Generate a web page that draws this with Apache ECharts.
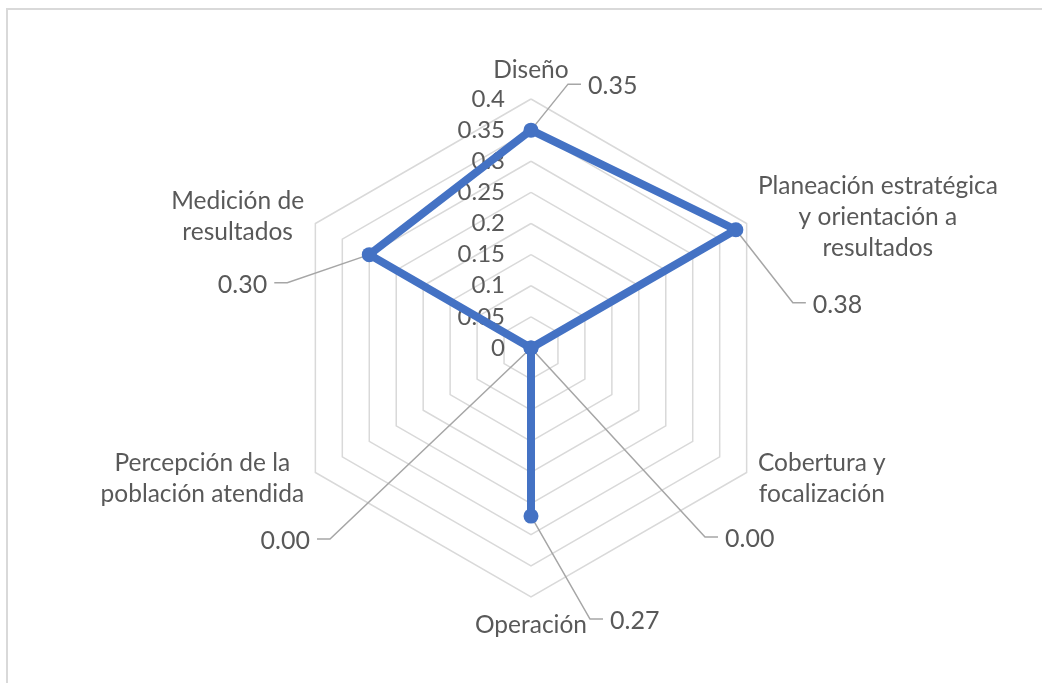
<!DOCTYPE html>
<html>
<head>
<meta charset="utf-8">
<script src="https://cdn.jsdelivr.net/npm/echarts@6/dist/echarts.min.js"></script>
<style>
  html, body { margin: 0; padding: 0; background: #fff; }
  #main { width: 1042px; height: 683px; }
</style>
</head>
<body>
<div id="main"></div>
<script>
// axis names as Excel lists them, clockwise from the top
const categories = [
  'Diseño',
  'Planeación estratégica\ny orientación a\nresultados',
  'Cobertura y\nfocalización',
  'Operación',
  'Percepción de la\npoblación atendida',
  'Medición de\nresultados'
];
const values = [0.35, 0.38, 0.00, 0.27, 0.00, 0.30];
const maxValue = 0.4;
const splitCount = 8; // 0.05 steps

// echarts radar runs counter-clockwise, so walk the list backwards after the top one
const order = [0, 5, 4, 3, 2, 1];

// value label callouts: elbow offset from the point, and which side the text goes
const callouts = [
  { dx: 37, dy: -46, side: 1 },
  { dx: 57, dy: 73, side: 1 },
  { dx: 174, dy: 189, side: 1 },
  { dx: 59, dy: 103, side: 1 },
  { dx: -201, dy: 191, side: -1 },
  { dx: -82, dy: 28, side: -1 }
];

const FONT = 'Lato, "Noto Sans", sans-serif';
const TEXT = '#595959';
const BLUE = '#4472c4';
const cx = 531, cy = 348, R = 249;
const FS = 24.5;

const chart = echarts.init(document.getElementById('main'));

chart.setOption({
  backgroundColor: '#fff',
  animation: false,
  radar: {
    center: [cx, cy],
    radius: R,
    startAngle: 90,
    shape: 'polygon',
    splitNumber: splitCount,
    nameGap: 13,
    axisName: {
      color: TEXT,
      fontFamily: FONT,
      fontSize: FS,
      lineHeight: 31,
      formatter: function (name) {
        return name.split('\n').map(s => '{c|' + s + '}').join('\n');
      },
      rich: {
        c: { align: 'center', color: TEXT, fontFamily: FONT, fontSize: FS, lineHeight: 31 }
      }
    },
    axisLine: { show: false },
    axisTick: { show: false },
    splitArea: { show: false },
    splitLine: { lineStyle: { color: '#d9d9d9', width: 1.5 } },
    axisLabel: {
      show: true,
      color: TEXT,
      fontFamily: FONT,
      fontSize: 24,
      margin: 26
    },
    indicator: order.map(function (i, k) {
      const ind = { name: categories[i], min: 0, max: maxValue };
      if (k > 0) ind.axisLabel = { show: false };
      return ind;
    })
  },
  series: [{
    type: 'radar',
    symbol: 'circle',
    symbolSize: 15,
    lineStyle: { color: BLUE, width: 8 },
    itemStyle: { color: BLUE },
    data: [{
      value: order.map(i => values[i])
    }]
  }]
});

// callouts: find each point through the radar coordinate system
let radarCS = null;
try { radarCS = chart.getModel().getComponent('radar').coordinateSystem; } catch (e) {}

function pointOf(i) {
  const k = order.indexOf(i);
  if (radarCS && radarCS.dataToPoint) return radarCS.dataToPoint(values[i], k);
  const a = Math.PI / 2 + k * 2 * Math.PI / order.length;
  const r = R * values[i] / maxValue;
  return [cx + r * Math.cos(a), cy - r * Math.sin(a)];
}

const graphics = [
  // the frame of the chart area, only left and top edges are visible
  { type: 'line', shape: { x1: 7, y1: 9, x2: 7, y2: 683 }, style: { stroke: '#d9d9d9', lineWidth: 2 } },
  { type: 'line', shape: { x1: 6, y1: 9, x2: 1042, y2: 9 }, style: { stroke: '#d9d9d9', lineWidth: 2 } }
];

values.forEach(function (v, i) {
  const p = pointOf(i);
  const c = callouts[i];
  const ex = p[0] + c.dx, ey = p[1] + c.dy;
  const tx = ex + c.side * 13;
  graphics.push({
    type: 'polyline',
    z: 1,
    shape: { points: [p, [ex, ey], [tx, ey]] },
    style: { stroke: '#a6a6a6', lineWidth: 1.5, fill: null }
  });
  graphics.push({
    type: 'text',
    z: 5,
    x: tx + c.side * 7,
    y: ey + 2,
    style: {
      text: v.toFixed(2),
      fill: TEXT,
      font: '25px ' + FONT,
      align: c.side > 0 ? 'left' : 'right',
      verticalAlign: 'middle'
    }
  });
});

chart.setOption({ graphic: graphics });
</script>
</body>
</html>
